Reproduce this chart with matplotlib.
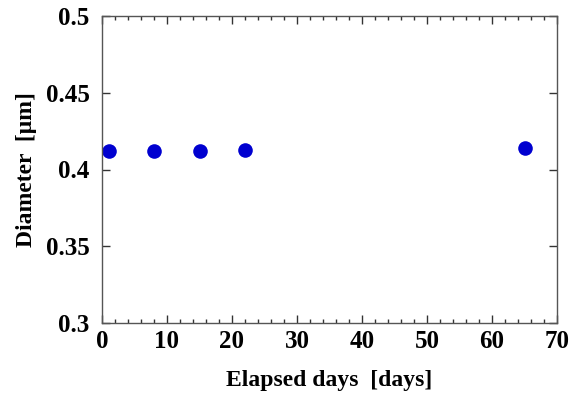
import matplotlib
matplotlib.use("Agg")
import matplotlib.pyplot as plt
from matplotlib.ticker import MultipleLocator

days = [1, 8, 15, 22, 65]
diameter = [0.412, 0.412, 0.412, 0.413, 0.414]
x_ticks = [0, 10, 20, 30, 40, 50, 60, 70]
y_ticks = [0.3, 0.35, 0.4, 0.45, 0.5]
y_tick_labels = ["0.3", "0.35", "0.4", "0.45", "0.5"]

plt.rcParams['font.family'] = ['Liberation Serif', 'DejaVu Serif']
plt.rcParams['font.weight'] = 'bold'

fig = plt.figure(figsize=(5.77, 3.94), dpi=100)
ax = fig.add_axes([102/577, 1 - 323/394, (557-102)/577, (323-16)/394])

ax.plot(days, diameter, 'o', color='#0000d0', markersize=10.5, markeredgewidth=0)

ax.set_xlim(0, 70)
ax.set_ylim(0.3, 0.5)
ax.set_xticks(x_ticks)
ax.set_yticks(y_ticks)
ax.set_yticklabels(y_tick_labels)
ax.xaxis.set_minor_locator(MultipleLocator(2))

ax.tick_params(axis='both', which='both', direction='in', top=True, right=True,
               labelsize=18, color='#333333')
ax.tick_params(axis='both', which='major', length=6, width=1)
ax.tick_params(axis='both', which='minor', length=3, width=1)
ax.tick_params(axis='x', which='major', pad=5)
ax.tick_params(axis='y', which='major', pad=9)
for lab in ax.get_xticklabels() + ax.get_yticklabels():
    lab.set_fontweight('bold')

for s in ax.spines.values():
    s.set_color('#555555')
    s.set_linewidth(1)

ax.set_xlabel('Elapsed days  [days]', fontsize=17, fontweight='bold', labelpad=12)
ax.set_ylabel('Diameter  [μm]', fontsize=17, fontweight='bold', labelpad=6)

fig.savefig('out.png', dpi=100)
